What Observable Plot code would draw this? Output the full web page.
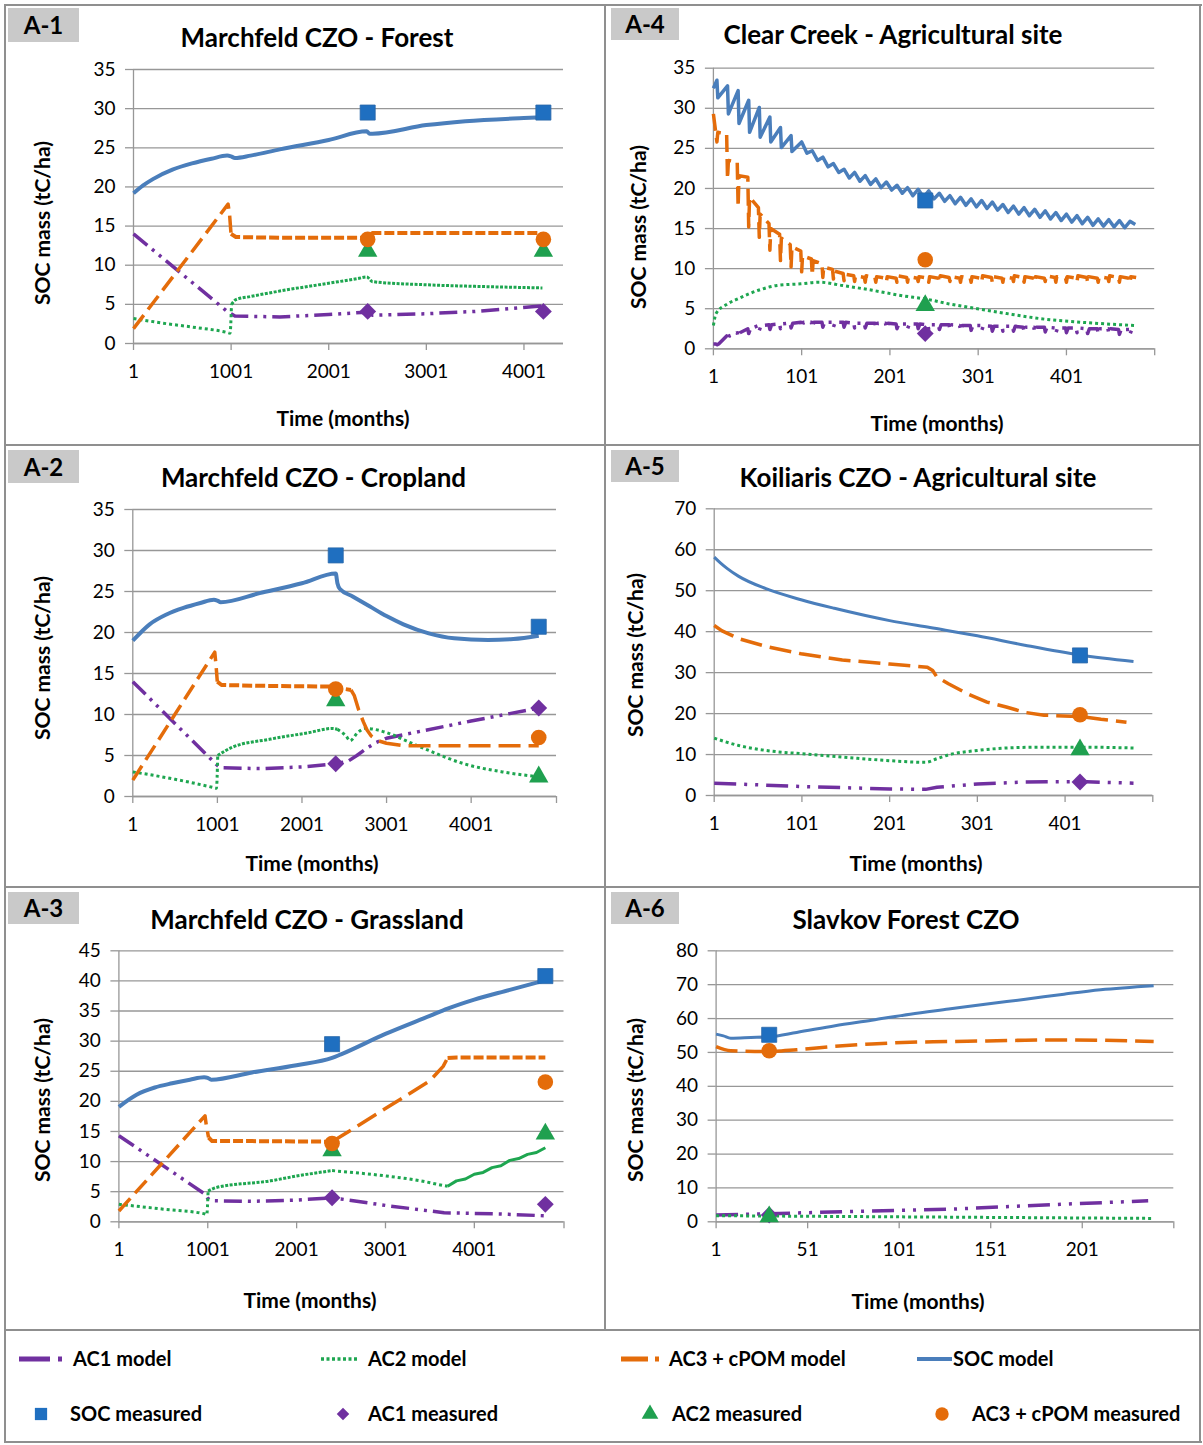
<!DOCTYPE html>
<html><head><meta charset="utf-8">
<script src="https://cdn.jsdelivr.net/npm/d3@7"></script>
<script src="https://cdn.jsdelivr.net/npm/@observablehq/plot@0.6"></script>
<style>
html,body{margin:0;padding:0;background:#fff;}
#root{position:relative;width:1203px;height:1445px;overflow:hidden;font-family:Lato,"Open Sans",sans-serif;color:#000;background:#fff;}
.bar{position:absolute;background:#8f8f8f;}
.tag{position:absolute;background:#c9c9c9;font-weight:700;font-size:24px;line-height:1;display:flex;align-items:center;justify-content:center;}
.title{position:absolute;font-weight:700;font-size:26px;line-height:1;white-space:nowrap;transform:translate(-50%,-50%);}
.xlab{position:absolute;font-weight:700;font-size:21px;line-height:1;white-space:nowrap;transform:translate(-50%,-50%);}
.ylab{position:absolute;font-weight:700;font-size:21px;line-height:1;white-space:nowrap;transform:translate(-50%,-50%) rotate(-90deg);}
</style></head>
<body><div id="root"></div>
<script>
// ================= DATA =================
// ---- A-1 Marchfeld CZO - Forest ----
const A1_X_TICKS = [1, 1001, 2001, 3001, 4001];
const A1_Y_TICKS = [0, 5, 10, 15, 20, 25, 30, 35];
const A1_SOC_MODEL = [[1,19.2],[100,20.2],[200,21.0],[400,22.2],[600,23.0],[800,23.6],[960,24.0],[1000,23.9],[1040,23.7],[1200,24.0],[1500,24.8],[2000,26.0],[2390,27.1],[2420,26.8],[2450,26.8],[3000,27.9],[3400,28.4],[4000,28.8],[4190,28.9]];
const A1_AC3_MODEL = [[1,1.9],[970,17.8],[985,16.5],[1000,14.0],[1050,13.6],[1500,13.5],[2390,13.5],[2420,13.9],[2450,14.1],[3000,14.1],[4150,14.1],[4190,13.8]];
const A1_AC2_MODEL = [[1,3.2],[300,2.6],[600,2.1],[960,1.4],[990,1.3],[1005,5.0],[1050,5.6],[1200,6.0],[1500,6.7],[2000,7.7],[2300,8.3],[2390,8.5],[2450,7.9],[3000,7.5],[3500,7.3],[4190,7.1]];
const A1_AC1_MODEL = [[1,14.0],[960,4.1],[1000,3.8],[1040,3.5],[1500,3.4],[2000,3.7],[2390,4.0],[2450,3.6],[3000,3.8],[3500,4.1],[4190,4.8]];
const A1_MEAS_MONTH = [2400, 4200];
const A1_SOC_MEAS = [29.5, 29.5];
const A1_AC1_MEAS = [4.1, 4.1];
const A1_AC2_MEAS = [11.8, 11.8];
const A1_AC3_MEAS = [13.3, 13.3];

// ---- A-2 Marchfeld CZO - Cropland ----
const A2_X_TICKS = [1, 1001, 2001, 3001, 4001];
const A2_Y_TICKS = [0, 5, 10, 15, 20, 25, 30, 35];
const A2_SOC_MODEL = [[1,19.0],[200,21.0],[400,22.2],[600,23.0],[800,23.6],[960,24.0],[1000,23.9],[1040,23.7],[1500,24.8],[2000,26.0],[2400,27.2],[2420,26.0],[2450,25.3],[2600,24.4],[2800,23.2],[3000,22.0],[3200,21.0],[3500,19.9],[3800,19.3],[4200,19.1],[4500,19.2],[4800,19.6]];
const A2_AC3_MODEL = [[1,2.0],[970,17.6],[985,16.0],[1000,14.0],[1050,13.6],[1500,13.5],[2400,13.4],[2450,13.2],[2580,13.0],[2620,12.3],[2670,10.6],[2727,9.1],[2770,8.1],[2818,7.4],[2900,6.8],[3000,6.5],[3200,6.2],[4800,6.2]];
const A2_AC2_MODEL = [[1,3.0],[500,2.1],[950,1.1],[990,1.0],[1005,5.0],[1175,6.0],[1630,7.0],[2088,7.8],[2360,8.3],[2420,8.2],[2520,7.4],[2570,6.8],[2660,7.8],[2750,8.3],[3000,7.8],[3230,6.8],[3457,5.8],[3914,4.0],[4370,3.0],[4805,2.4]];
const A2_AC1_MODEL = [[1,14.0],[960,4.2],[1000,3.8],[1040,3.5],[1500,3.4],[2000,3.6],[2400,4.0],[2545,4.3],[2650,5.0],[2770,5.9],[2880,6.6],[3000,7.1],[3230,7.6],[4000,9.2],[4805,10.8]];
const A2_MEAS_MONTH = [2400, 4800];
const A2_SOC_MEAS = [29.4, 20.7];
const A2_AC1_MEAS = [4.0, 10.8];
const A2_AC2_MEAS = [11.7, 2.4];
const A2_AC3_MEAS = [13.1, 7.2];

// ---- A-3 Marchfeld CZO - Grassland ----
const A3_X_TICKS = [1, 1001, 2001, 3001, 4001];
const A3_Y_TICKS = [0, 5, 10, 15, 20, 25, 30, 35, 40, 45];
const A3_SOC_MODEL = [[1,19.1],[200,21.1],[405,22.3],[600,23.0],[800,23.6],[960,24.0],[1000,23.9],[1040,23.6],[1500,24.8],[2000,26.0],[2400,27.2],[2500,27.8],[3000,31.2],[3500,34.2],[3700,35.4],[4000,36.9],[4400,38.5],[4800,40.1]];
const A3_AC3_MODEL = [[1,1.8],[970,17.6],[985,16.0],[1010,14.0],[1050,13.4],[1500,13.4],[2400,13.3],[2500,14.2],[3000,18.8],[3500,23.4],[3650,25.8],[3700,27.2],[3800,27.3],[4800,27.3]];
const A3_AC2_MODEL = [[1,2.9],[500,2.1],[970,1.3],[990,1.2],[1005,5.1],[1100,5.7],[1707,6.8],[2000,7.6],[2400,8.5],[3010,7.6],[3400,6.8],[3661,6.0],[3700,5.9],[3800,6.8],[3900,7.1],[4000,7.9],[4100,8.2],[4200,9.0],[4300,9.3],[4400,10.2],[4500,10.5],[4600,11.2],[4700,11.5],[4800,12.3]];
const A3_AC1_MODEL = [[1,14.3],[970,4.6],[1000,3.9],[1040,3.5],[1500,3.4],[2000,3.6],[2400,4.0],[3010,2.7],[3661,1.5],[4300,1.3],[4790,1.0]];
const A3_MEAS_MONTH = [2400, 4800];
const A3_SOC_MEAS = [29.5, 40.8];
const A3_AC1_MEAS = [4.0, 2.9];
const A3_AC2_MEAS = [11.8, 14.6];
const A3_AC3_MEAS = [13.0, 23.2];

// ---- A-4 Clear Creek - Agricultural site ----
const A4_X_TICKS = [1, 101, 201, 301, 401];
const A4_Y_TICKS = [0, 5, 10, 15, 20, 25, 30, 35];
const A4_PEAK_MONTH = [5,17,29,41,53,65,77,89,101,113,125,137,149,161,173,185,197,209,221,233,245,257,269,281,293,305,317,329,341,353,365,377,389,401,413,425,437,449,461,473];
const A4_TROUGH_MONTH = [6,18,30,42,54,66,78,90,107,119,131,143,155,167,179,191,203,215,227,239,251,263,275,287,299,311,323,335,347,359,371,383,395,407,419,431,443,455,467,479];
const A4_SOC_START = [1, 32.5];
const A4_SOC_PEAK = [33.5,32.8,32.2,31.0,30.1,28.9,27.6,26.6,25.8,24.7,23.9,23.1,22.4,22.0,21.6,21.2,20.8,20.4,20.1,19.9,19.7,19.4,19.1,18.9,18.7,18.5,18.3,18.0,17.8,17.6,17.4,17.2,17.0,16.8,16.6,16.4,16.2,16.1,16.0,15.9];
const A4_SOC_TROUGH = [31.3,29.3,28.1,27.0,26.4,25.8,25.1,24.6,24.4,23.5,22.7,22.0,21.3,20.9,20.5,20.1,19.8,19.4,19.1,18.9,18.7,18.4,18.1,17.9,17.7,17.5,17.3,17.0,16.8,16.6,16.4,16.2,16.0,15.8,15.6,15.4,15.3,15.2,15.1,15.5];
const A4_AC3_FIRST = [1, 29.3];
const A4_AC3_LAST = [480, 8.9];
const A4_AC3_DIP = [25.8,21.2,17.7,15.2,13.9,12.3,11.0,10.2,9.6,9.2,8.9,8.7,8.5,8.4,8.3,8.3,8.4,8.3,8.3,8.4,8.3,8.3,8.4,8.3,8.3,8.4,8.3,8.3,8.4,8.3,8.3,8.4,8.3,8.3,8.4,8.3,8.3,8.4,8.3,8.3];
const A4_AC3_PLATEAU_START = [27.0,23.5,21.6,18.9,16.8,15.0,13.8,12.7,11.6,11.0,10.2,9.7,9.3,9.1,9.1,9.0,9.0,9.1,9.0,9.0,9.0,9.1,9.0,9.0,9.0,9.1,9.0,9.0,9.1,9.0,9.0,9.1,9.0,9.0,9.1,9.0,9.0,9.1,9.0,9.0];
const A4_AC3_PLATEAU_END = [26.8,23.3,21.4,17.6,15.6,14.3,13.0,12.2,11.2,10.6,9.9,9.4,9.1,8.9,8.9,8.8,8.8,8.9,8.8,8.8,8.8,8.9,8.8,8.8,8.8,8.9,8.8,8.8,8.9,8.8,8.8,8.9,8.8,8.8,8.9,8.8,8.8,8.9,8.8,8.8];
const A4_AC2_MODEL = [[1,2.9],[4,4.4],[17,5.6],[30,6.3],[52,7.3],[73,7.9],[100,8.1],[121,8.3],[147,7.9],[181,7.3],[216,6.6],[242,6.2],[268,5.6],[300,5.0],[333,4.4],[376,3.7],[419,3.3],[480,2.9]];
const A4_AC1_FIRST = [1, 0.6];
const A4_AC1_LAST = [480, 2.4];
const A4_AC1_LEVEL = [0.6,1.6,2.0,2.5,2.9,3.0,3.1,3.2,3.3,3.3,3.3,3.3,3.3,3.2,3.2,3.2,3.2,3.1,3.1,3.1,3.0,3.0,3.0,2.9,2.9,2.9,2.8,2.8,2.8,2.7,2.7,2.7,2.6,2.6,2.6,2.5,2.5,2.5,2.4,2.4];
const A4_AC1_DIP = [0.5,1.1,1.5,1.9,2.3,2.4,2.5,2.6,2.7,2.7,2.7,2.7,2.7,2.6,2.6,2.6,2.6,2.5,2.5,2.5,2.4,2.4,2.4,2.3,2.3,2.3,2.2,2.2,2.2,2.1,2.1,2.1,2.0,2.0,2.0,1.9,1.9,1.9,1.8,1.8];
const A4_MEAS_MONTH = [241];
const A4_SOC_MEAS = [18.5];
const A4_AC1_MEAS = [1.9];
const A4_AC2_MEAS = [5.4];
const A4_AC3_MEAS = [11.1];

// ---- A-5 Koiliaris CZO - Agricultural site ----
const A5_X_TICKS = [1, 101, 201, 301, 401];
const A5_Y_TICKS = [0, 10, 20, 30, 40, 50, 60, 70];
const A5_SOC_MODEL = [[1,58.2],[8,56.8],[16,55.4],[29,53.5],[60,50.5],[100,47.8],[138,45.7],[201,42.7],[247,41.0],[301,39.0],[355,36.7],[418,34.3],[479,32.7]];
const A5_AC3_MODEL = [[1,41.5],[10,40.2],[29,38.3],[60,36.4],[100,34.6],[147,33.1],[201,32.1],[244,31.3],[250,30.5],[255,28.9],[268,27.3],[290,24.8],[312,22.8],[334,21.6],[355,20.3],[377,19.6],[418,19.3],[442,18.6],[471,17.9]];
const A5_AC2_MODEL = [[1,14.0],[29,12.2],[60,11.0],[100,10.2],[147,9.4],[201,8.5],[242,8.1],[255,9.0],[268,9.9],[301,11.0],[334,11.6],[377,11.8],[418,11.8],[479,11.6]];
const A5_AC1_MODEL = [[1,3.0],[100,2.2],[201,1.6],[242,1.5],[255,2.0],[301,2.8],[355,3.3],[418,3.4],[479,3.0]];
const A5_MEAS_MONTH = [418];
const A5_SOC_MEAS = [34.2];
const A5_AC1_MEAS = [3.3];
const A5_AC2_MEAS = [11.2];
const A5_AC3_MEAS = [19.7];

// ---- A-6 Slavkov Forest CZO ----
const A6_X_TICKS = [1, 51, 101, 151, 201];
const A6_Y_TICKS = [0, 10, 20, 30, 40, 50, 60, 70, 80];
const A6_SOC_MODEL = [[1,55.4],[5,54.9],[9,54.2],[20,54.4],[30,54.6],[45,55.9],[66,57.9],[86,59.5],[107,61.3],[128,62.8],[149,64.3],[170,65.7],[191,67.2],[211,68.5],[240,69.7]];
const A6_AC3_MODEL = [[1,51.7],[9,50.5],[30,50.3],[45,50.8],[66,51.8],[86,52.5],[107,53.0],[128,53.2],[149,53.4],[170,53.6],[191,53.7],[211,53.6],[240,53.2]];
const A6_AC2_MODEL = [[1,1.8],[60,1.6],[120,1.4],[180,1.2],[240,1.0]];
const A6_AC1_MODEL = [[1,2.0],[45,2.6],[86,3.2],[128,3.7],[149,4.2],[191,5.2],[237,6.2]];
const A6_MEAS_MONTH = [30];
const A6_SOC_MEAS = [55.2];
const A6_AC1_MEAS = [2.0];
const A6_AC2_MEAS = [1.5];
const A6_AC3_MEAS = [50.5];

// ---- texts ----
const Y_LABEL = "SOC mass (tC/ha)";
const X_LABEL = "Time (months)";
const LEGEND_LINES = ["AC1 model", "AC2 model", "AC3 + cPOM model", "SOC model"];
const LEGEND_MARKERS = ["SOC measured", "AC1 measured", "AC2 measured", "AC3 + cPOM measured"];

// ================= STYLE =================
const GRID = "#979797";
const BLUE = "#4a7ebb", ORANGE = "#e46c0a", GREEN = "#1ea650", PURPLE = "#7030a0";
const SQ_FILL = "#1f6fc0";
const STYLE = {
  soc:      {stroke: BLUE, strokeWidth: 4},
  socThin:  {stroke: BLUE, strokeWidth: 3},
  socSaw:   {stroke: BLUE, strokeWidth: 3.5},
  ac1:      {stroke: PURPLE, strokeWidth: 3.5, strokeDasharray: "18,6,3,6,3,6"},
  ac1Long:  {stroke: PURPLE, strokeWidth: 3.5, strokeDasharray: "22,8,3,8,3,8"},
  ac2:      {stroke: GREEN, strokeWidth: 3, strokeDasharray: "3,3"},
  ac2Dense: {stroke: GREEN, strokeWidth: 3, strokeDasharray: "3,1.5"},
  ac2Solid: {stroke: GREEN, strokeWidth: 3},
  ac3:      {stroke: ORANGE, strokeWidth: 3.5, strokeDasharray: "17,7"},
  ac3Dense: {stroke: ORANGE, strokeWidth: 4, strokeDasharray: "10,3"},
  ac3Long:  {stroke: ORANGE, strokeWidth: 3.5, strokeDasharray: "22,8"}
};

const part = (data, a, b) => data.filter(d => d[0] >= a && d[0] <= b);
const pairs = (xs, ys) => xs.map((x, i) => [x, ys[i]]);

// assemble A-4 seasonal series from the per-year readings
const A4_SOC_MODEL = [A4_SOC_START].concat(A4_PEAK_MONTH.flatMap((m, i) => [[m, A4_SOC_PEAK[i]], [A4_TROUGH_MONTH[i], A4_SOC_TROUGH[i]]]));
const A4_AC3_MODEL = [A4_AC3_FIRST].concat(A4_PEAK_MONTH.flatMap((m, i) => (i > 0 ? [[m - 1, A4_AC3_PLATEAU_END[i - 1]]] : []).concat([[m, A4_AC3_DIP[i]], [m + 1, A4_AC3_PLATEAU_START[i]]])), [A4_AC3_LAST]);
const A4_AC1_MODEL = [A4_AC1_FIRST].concat(A4_PEAK_MONTH.flatMap((m, i) => [[m - 1, A4_AC1_LEVEL[i]], [m, A4_AC1_DIP[i]], [m + 2, A4_AC1_LEVEL[i]]]), [A4_AC1_LAST]);

// ================= PANELS =================
const LIN = "linear";
const PANELS = [
  {tag: "A-1", title: "Marchfeld CZO - Forest", xDomain: [1, 4406], xTicks: A1_X_TICKS, xEnd: null, yTicks: A1_Y_TICKS,
   layout: {left: 5, top: 5, x0: 133, x1: 563, y0: 343, y1: 69, tag: [8, 8, 71, 34], title: [317, 37], xl: [343, 417], yl: [40.5, 223]},
   lines: [
     {data: A1_AC1_MODEL, style: "ac1", curve: LIN},
     {data: part(A1_AC2_MODEL, 1, 1005), style: "ac2"},
     {data: part(A1_AC2_MODEL, 1005, 5000), style: "ac2Dense"},
     {data: part(A1_AC3_MODEL, 1, 1000), style: "ac3", curve: LIN},
     {data: part(A1_AC3_MODEL, 1000, 5000), style: "ac3Dense", curve: LIN},
     {data: A1_SOC_MODEL, style: "soc"}],
   meas: {x: A1_MEAS_MONTH, soc: A1_SOC_MEAS, ac1: A1_AC1_MEAS, ac2: A1_AC2_MEAS, ac3: A1_AC3_MEAS}},
  {tag: "A-2", title: "Marchfeld CZO - Cropland", xDomain: [1, 5010], xTicks: A2_X_TICKS, xEnd: 5010, yTicks: A2_Y_TICKS,
   layout: {left: 5, top: 445, x0: 132.3, x1: 556, y0: 796, y1: 509, tag: [8, 450, 71, 33], title: [313.5, 477], xl: [312, 862], yl: [40.5, 658]},
   lines: [
     {data: A2_AC1_MODEL, style: "ac1", curve: LIN},
     {data: part(A2_AC2_MODEL, 1, 1005), style: "ac2"},
     {data: part(A2_AC2_MODEL, 1005, 2420), style: "ac2Dense"},
     {data: part(A2_AC2_MODEL, 2420, 5000), style: "ac2"},
     {data: part(A2_AC3_MODEL, 1, 1000), style: "ac3", curve: LIN},
     {data: part(A2_AC3_MODEL, 1000, 2580), style: "ac3Dense", curve: LIN},
     {data: part(A2_AC3_MODEL, 2580, 5000), style: "ac3Long", curve: LIN},
     {data: A2_SOC_MODEL, style: "soc"}],
   meas: {x: A2_MEAS_MONTH, soc: A2_SOC_MEAS, ac1: A2_AC1_MEAS, ac2: A2_AC2_MEAS, ac3: A2_AC3_MEAS}},
  {tag: "A-3", title: "Marchfeld CZO - Grassland", xDomain: [1, 5010], xTicks: A3_X_TICKS, xEnd: 5010, yTicks: A3_Y_TICKS,
   layout: {left: 5, top: 887, x0: 118.4, x1: 563.5, y0: 1221.3, y1: 950.3, tag: [8, 892, 71, 32], title: [307, 919], xl: [310, 1299], yl: [40.5, 1100]},
   lines: [
     {data: A3_AC1_MODEL, style: "ac1", curve: LIN},
     {data: part(A3_AC2_MODEL, 1, 1005), style: "ac2"},
     {data: part(A3_AC2_MODEL, 1005, 2400), style: "ac2Dense"},
     {data: part(A3_AC2_MODEL, 2400, 3700), style: "ac2"},
     {data: part(A3_AC2_MODEL, 3700, 5000), style: "ac2Solid", curve: LIN},
     {data: part(A3_AC3_MODEL, 1, 1010), style: "ac3", curve: LIN},
     {data: part(A3_AC3_MODEL, 1010, 2400), style: "ac3Dense", curve: LIN},
     {data: part(A3_AC3_MODEL, 2400, 3700), style: "ac3Long", curve: LIN},
     {data: part(A3_AC3_MODEL, 3700, 5000), style: "ac3Dense", curve: LIN},
     {data: A3_SOC_MODEL, style: "soc"}],
   meas: {x: A3_MEAS_MONTH, soc: A3_SOC_MEAS, ac1: A3_AC1_MEAS, ac2: A3_AC2_MEAS, ac3: A3_AC3_MEAS}},
  {tag: "A-4", title: "Clear Creek - Agricultural site", xDomain: [1, 501], xTicks: A4_X_TICKS, xEnd: 501, yTicks: A4_Y_TICKS,
   layout: {left: 605, top: 5, x0: 712.9, x1: 1154.2, y0: 348.3, y1: 67.7, tag: [611, 8, 68, 32], title: [893, 34], xl: [937, 422], yl: [637, 227]},
   lines: [
     {data: A4_AC1_MODEL, style: "ac1", curve: LIN},
     {data: A4_AC2_MODEL, style: "ac2"},
     {data: A4_AC3_MODEL, style: "ac3", curve: LIN},
     {data: A4_SOC_MODEL, style: "socSaw", curve: LIN}],
   meas: {x: A4_MEAS_MONTH, soc: A4_SOC_MEAS, ac1: A4_AC1_MEAS, ac2: A4_AC2_MEAS, ac3: A4_AC3_MEAS}},
  {tag: "A-5", title: "Koiliaris CZO - Agricultural site", xDomain: [1, 501], xTicks: A5_X_TICKS, xEnd: 501, yTicks: A5_Y_TICKS,
   layout: {left: 605, top: 445, x0: 713.7, x1: 1152.3, y0: 795, y1: 508.3, tag: [611, 450, 68, 32], title: [918, 477], xl: [916, 862], yl: [634, 655]},
   lines: [
     {data: A5_AC1_MODEL, style: "ac1Long", curve: LIN},
     {data: A5_AC2_MODEL, style: "ac2"},
     {data: A5_AC3_MODEL, style: "ac3Long", curve: LIN},
     {data: A5_SOC_MODEL, style: "socThin"}],
   meas: {x: A5_MEAS_MONTH, soc: A5_SOC_MEAS, ac1: A5_AC1_MEAS, ac2: A5_AC2_MEAS, ac3: A5_AC3_MEAS}},
  {tag: "A-6", title: "Slavkov Forest CZO", xDomain: [1, 251], xTicks: A6_X_TICKS, xEnd: 251, yTicks: A6_Y_TICKS,
   layout: {left: 605, top: 887, x0: 715.6, x1: 1173.3, y0: 1221.3, y1: 950.3, tag: [611, 892, 68, 32], title: [906, 919], xl: [918, 1300], yl: [634, 1100]},
   lines: [
     {data: A6_AC1_MODEL, style: "ac1Long", curve: LIN},
     {data: A6_AC2_MODEL, style: "ac2"},
     {data: A6_AC3_MODEL, style: "ac3Long"},
     {data: A6_SOC_MODEL, style: "socThin"}],
   meas: {x: A6_MEAS_MONTH, soc: A6_SOC_MEAS, ac1: A6_AC1_MEAS, ac2: A6_AC2_MEAS, ac3: A6_AC3_MEAS}}
];

const root = document.getElementById("root");
function div(cls, text, css) {
  const d = document.createElement("div");
  if (cls) d.className = cls;
  if (text != null) d.textContent = text;
  Object.assign(d.style, css);
  root.appendChild(d);
  return d;
}

// frame lines
[[4, 4, 1198, 2], [4, 1441, 1198, 2], [4, 4, 2, 1439], [1199, 4, 2, 1439], [604, 4, 2, 1326],
 [4, 444, 1197, 2], [4, 886, 1197, 2], [4, 1329, 1197, 2]].forEach(([l, t, w, h]) =>
  div("bar", null, {left: l + "px", top: t + "px", width: w + "px", height: h + "px"}));

function drawPanel(p) {
  const L = p.layout, W = 600, H = 440;
  const allTicks = p.xEnd != null ? p.xTicks.concat([p.xEnd]) : p.xTicks;
  const marks = [
    Plot.gridY({ticks: p.yTicks, stroke: GRID, strokeOpacity: 1, strokeWidth: 1.3}),
    Plot.ruleX([p.xDomain[0]], {stroke: GRID, strokeWidth: 1.3}),
    Plot.ruleY([0], {stroke: GRID, strokeWidth: 1.3}),
    Plot.axisY({ticks: p.yTicks, tickSize: 8, tickPadding: 10, stroke: GRID, strokeWidth: 1.3, fill: "#000", label: null}),
    Plot.axisX({ticks: allTicks, tickSize: 7, tickPadding: 14, stroke: GRID, strokeWidth: 1.3, fill: "#000", label: null,
                tickFormat: d => p.xTicks.includes(d) ? String(d) : ""})
  ];
  for (const ln of p.lines) {
    marks.push(Plot.line(ln.data, {x: d => d[0], y: d => d[1], curve: ln.curve || "monotone-x",
      strokeLinejoin: "round", strokeLinecap: "butt", ...STYLE[ln.style]}));
  }
  const m = p.meas;
  const xy = {x: d => d[0], y: d => d[1]};
  marks.push(Plot.dot(pairs(m.x, m.soc), {...xy, symbol: "square", r: 8.5, fill: SQ_FILL, stroke: "#2a67a8", strokeWidth: 0.8}));
  marks.push(Plot.dot(pairs(m.x, m.ac1), {...xy, symbol: "diamond2", r: 7.6, fill: PURPLE, stroke: "none"}));
  marks.push(Plot.dot(pairs(m.x, m.ac2), {...xy, symbol: "triangle", r: 7.2, fill: "#1fa04f", stroke: "none"}));
  marks.push(Plot.dot(pairs(m.x, m.ac3), {...xy, symbol: "circle", r: 7.8, fill: ORANGE, stroke: "none"}));

  const svg = Plot.plot({
    width: W, height: H,
    marginLeft: L.x0 - L.left, marginRight: L.left + W - L.x1,
    marginTop: L.y1 - L.top, marginBottom: L.top + H - L.y0,
    x: {domain: p.xDomain},
    y: {domain: [0, p.yTicks[p.yTicks.length - 1]]},
    style: {fontFamily: "Lato, 'Open Sans', sans-serif", fontSize: "19px", background: "transparent", overflow: "visible", color: "#000"},
    marks
  });
  svg.style.position = "absolute";
  svg.style.left = L.left + "px";
  svg.style.top = L.top + "px";
  root.appendChild(svg);

  const [tl, tt, tw, th] = L.tag;
  div("tag", p.tag, {left: tl + "px", top: tt + "px", width: tw + "px", height: th + "px"});
  div("title", p.title, {left: L.title[0] + "px", top: L.title[1] + "px"});
  div("xlab", X_LABEL, {left: L.xl[0] + "px", top: L.xl[1] + "px"});
  div("ylab", Y_LABEL, {left: L.yl[0] + "px", top: L.yl[1] + "px"});
}
PANELS.forEach(drawPanel);

// ================= LEGEND =================
const leg = d3.create("svg").attr("width", 1203).attr("height", 112)
  .style("position", "absolute").style("left", "0px").style("top", "1331px")
  .style("font-family", "Lato, 'Open Sans', sans-serif");
const r1 = 28, r2 = 83;
const lineItems = [
  {x1: 19, x2: 63, stroke: PURPLE, w: 5, dash: "31,8,4,60", tx: 73},
  {x1: 321, x2: 358, stroke: GREEN, w: 3.5, dash: "3,2.5", tx: 368},
  {x1: 621, x2: 661, stroke: ORANGE, w: 5, dash: "27,7,4,60", tx: 669},
  {x1: 917, x2: 952, stroke: BLUE, w: 4, dash: null, tx: 953}
];
lineItems.forEach((it, i) => {
  leg.append("line").attr("x1", it.x1).attr("x2", it.x2).attr("y1", r1).attr("y2", r1)
    .attr("stroke", it.stroke).attr("stroke-width", it.w).attr("stroke-dasharray", it.dash);
  leg.append("text").attr("x", it.tx).attr("y", r1).attr("dy", "0.35em")
    .attr("font-size", 20).attr("font-weight", 700).text(LEGEND_LINES[i]);
});
const sym = (type, size) => d3.symbol().type(type).size(size)();
const markerItems = [
  {cx: 41, path: sym(d3.symbolSquare, 150), fill: SQ_FILL, tx: 70},
  {cx: 343, path: sym(d3.symbolDiamond2, 100), fill: PURPLE, tx: 368},
  {cx: 650, path: sym(d3.symbolTriangle, 120), fill: "#1fa04f", tx: 672},
  {cx: 942, path: sym(d3.symbolCircle, 140), fill: ORANGE, tx: 972}
];
markerItems.forEach((it, i) => {
  leg.append("path").attr("d", it.path).attr("transform", `translate(${it.cx},${r2})`).attr("fill", it.fill);
  leg.append("text").attr("x", it.tx).attr("y", r2).attr("dy", "0.35em")
    .attr("font-size", 20).attr("font-weight", 700).text(LEGEND_MARKERS[i]);
});
root.appendChild(leg.node());
</script>
</body></html>
